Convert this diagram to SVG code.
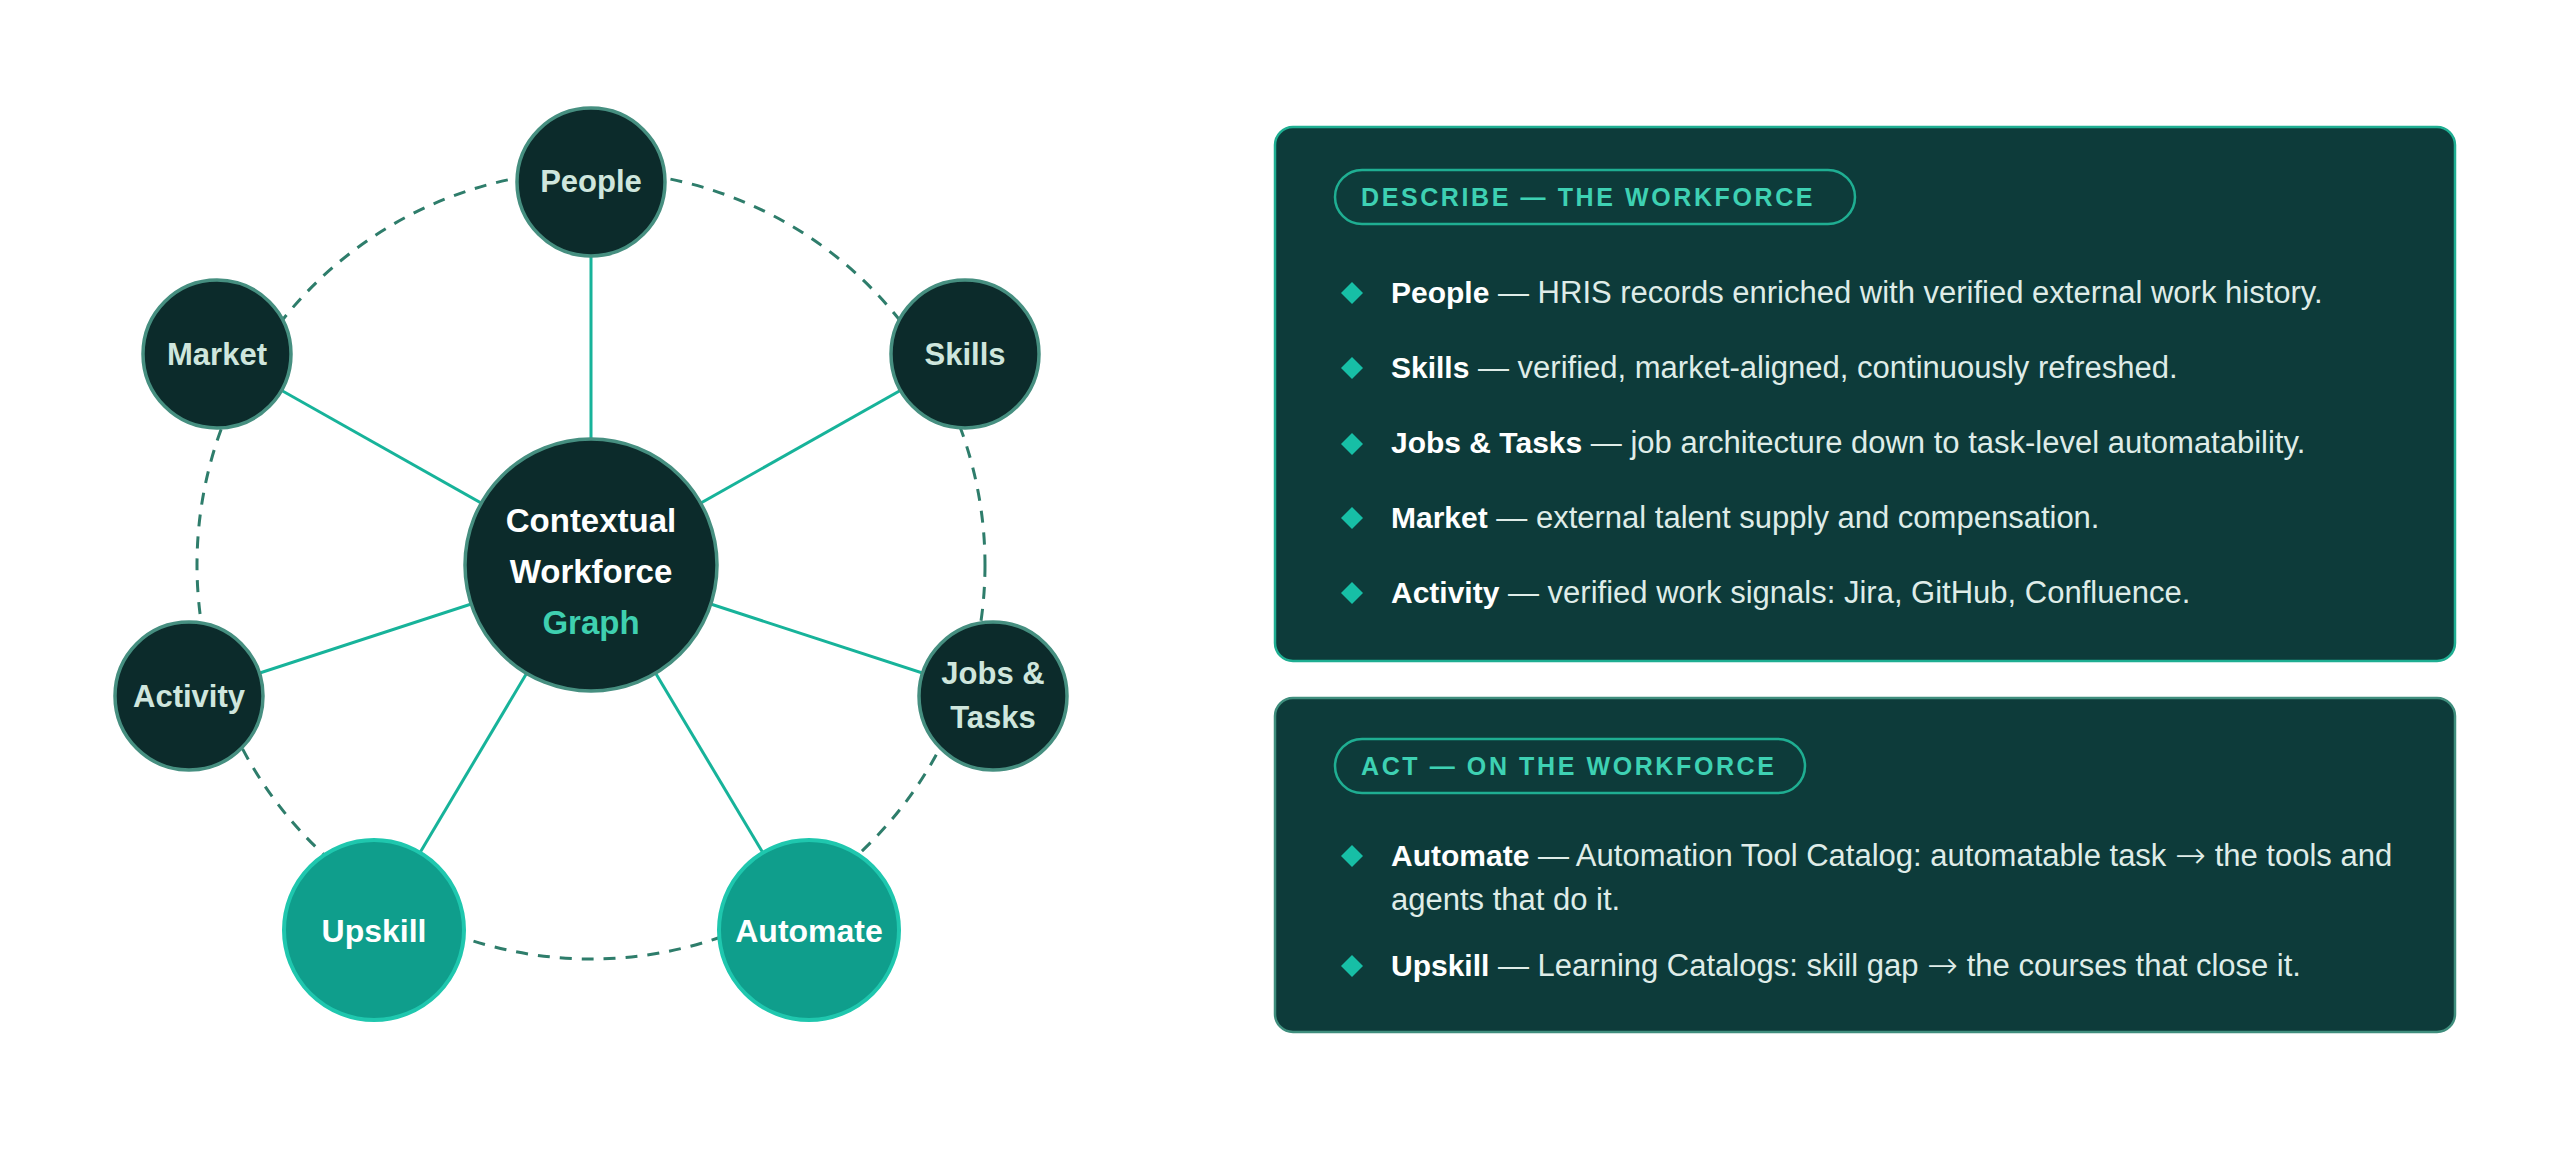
<svg xmlns="http://www.w3.org/2000/svg" xmlns:xlink="http://www.w3.org/1999/xlink" width="2560" height="1174" viewBox="0 0 2560 1174">
<defs>
<style>
.ring{fill:none;stroke:#2e7d6b;stroke-width:3;stroke-dasharray:12 10}
.spoke{stroke:#17b39a;stroke-width:3;fill:none}
.dn{fill:#0c2b2b;stroke:#468f80;stroke-width:3.5}
.an{fill:#0f9e8c;stroke:#1fc7ae;stroke-width:4}
.lbl{font-family:"Liberation Sans",Arial,sans-serif;font-weight:bold;font-size:31px;fill:#cfe6dd;text-anchor:middle}
.albl{font-family:"Liberation Sans",Arial,sans-serif;font-weight:bold;font-size:32px;fill:#ffffff;text-anchor:middle}
.hub{font-family:"Liberation Sans",Arial,sans-serif;font-weight:bold;font-size:33px;fill:#ffffff;text-anchor:middle}
.panel{fill:#0d3b3a;stroke-width:2.5}
.pill{fill:none;stroke:#1fae92;stroke-width:2.5}
.pilltxt{font-family:"Liberation Sans",Arial,sans-serif;font-weight:bold;font-size:25px;letter-spacing:2.6px;fill:#3ed1b3}
.row{font-family:"Liberation Sans",Arial,sans-serif;font-size:31px;fill:#dfece8}
.b{font-weight:bold;font-size:30px;fill:#ffffff}
.arr{font-family:"DejaVu Sans",sans-serif;font-weight:200;font-size:37px}
.dia{fill:#17bfa6}
</style>
<path id="dia" class="dia" d="M0,-11 L11,0 L0,11 L-11,0Z"/>
</defs>
<rect width="2560" height="1174" fill="#ffffff"/>

<g id="connectors">
<circle class="ring" cx="591" cy="565" r="394"/>
<line class="spoke" x1="591" y1="565" x2="591" y2="183"/>
<line class="spoke" x1="591" y1="565" x2="217" y2="354"/>
<line class="spoke" x1="591" y1="565" x2="965" y2="354"/>
<line class="spoke" x1="591" y1="565" x2="189" y2="696"/>
<line class="spoke" x1="591" y1="565" x2="993" y2="696"/>
<line class="spoke" x1="591" y1="565" x2="374" y2="930"/>
<line class="spoke" x1="591" y1="565" x2="809" y2="930"/>
</g>

<g id="node-hub">
<circle class="dn" cx="591" cy="565" r="126"/>
<text class="hub" x="591" y="532">Contextual</text>
<text class="hub" x="591" y="583">Workforce</text>
<text class="hub" x="591" y="634" style="fill:#3fd0b0">Graph</text>
</g>
<g id="node-people">
<circle class="dn" cx="591" cy="182" r="74"/>
<text class="lbl" x="591" y="192">People</text>
</g>
<g id="node-market">
<circle class="dn" cx="217" cy="354" r="74"/>
<text class="lbl" x="217" y="365">Market</text>
</g>
<g id="node-skills">
<circle class="dn" cx="965" cy="354" r="74"/>
<text class="lbl" x="965" y="365">Skills</text>
</g>
<g id="node-activity">
<circle class="dn" cx="189" cy="696" r="74"/>
<text class="lbl" x="189" y="707">Activity</text>
</g>
<g id="node-jobs">
<circle class="dn" cx="993" cy="696" r="74"/>
<text class="lbl" x="993" y="684">Jobs &amp;</text>
<text class="lbl" x="993" y="728">Tasks</text>
</g>
<g id="node-upskill">
<circle class="an" cx="374" cy="930" r="90"/>
<text class="albl" x="374" y="942">Upskill</text>
</g>
<g id="node-automate">
<circle class="an" cx="809" cy="930" r="90"/>
<text class="albl" x="809" y="942">Automate</text>
</g>

<g id="panel-describe">
<rect class="panel" x="1275" y="127" width="1180" height="534" rx="18" stroke="#1fae92"/>
<rect class="pill" x="1335" y="170" width="520" height="54" rx="27"/>
<text class="pilltxt" x="1361" y="206">DESCRIBE — THE WORKFORCE</text>
<use href="#dia" x="1352" y="293"/>
<text class="row" x="1391" y="303"><tspan class="b">People</tspan> — HRIS records enriched with verified external work history.</text>
<use href="#dia" x="1352" y="368"/>
<text class="row" x="1391" y="378"><tspan class="b">Skills</tspan> — verified, market-aligned, continuously refreshed.</text>
<use href="#dia" x="1352" y="444"/>
<text class="row" x="1391" y="453"><tspan class="b">Jobs &amp; Tasks</tspan> — job architecture down to task-level automatability.</text>
<use href="#dia" x="1352" y="518"/>
<text class="row" x="1391" y="528"><tspan class="b">Market</tspan> — external talent supply and compensation.</text>
<use href="#dia" x="1352" y="593"/>
<text class="row" x="1391" y="603"><tspan class="b">Activity</tspan> — verified work signals: Jira, GitHub, Confluence.</text>
</g>

<g id="panel-act">
<rect class="panel" x="1275" y="698" width="1180" height="334" rx="18" stroke="#3f8e7d"/>
<rect class="pill" x="1335" y="739" width="470" height="54" rx="27"/>
<text class="pilltxt" x="1361" y="775">ACT — ON THE WORKFORCE</text>
<use href="#dia" x="1352" y="856"/>
<text class="row" x="1391" y="866"><tspan class="b">Automate</tspan> — Automation Tool Catalog: automatable task <tspan class="arr" dy="2">→</tspan><tspan dy="-2"> the tools and</tspan></text>
<text class="row" x="1391" y="910">agents that do it.</text>
<use href="#dia" x="1352" y="966"/>
<text class="row" x="1391" y="976"><tspan class="b">Upskill</tspan> — Learning Catalogs: skill gap <tspan class="arr" dy="2">→</tspan><tspan dy="-2"> the courses that close it.</tspan></text>
</g>
</svg>
